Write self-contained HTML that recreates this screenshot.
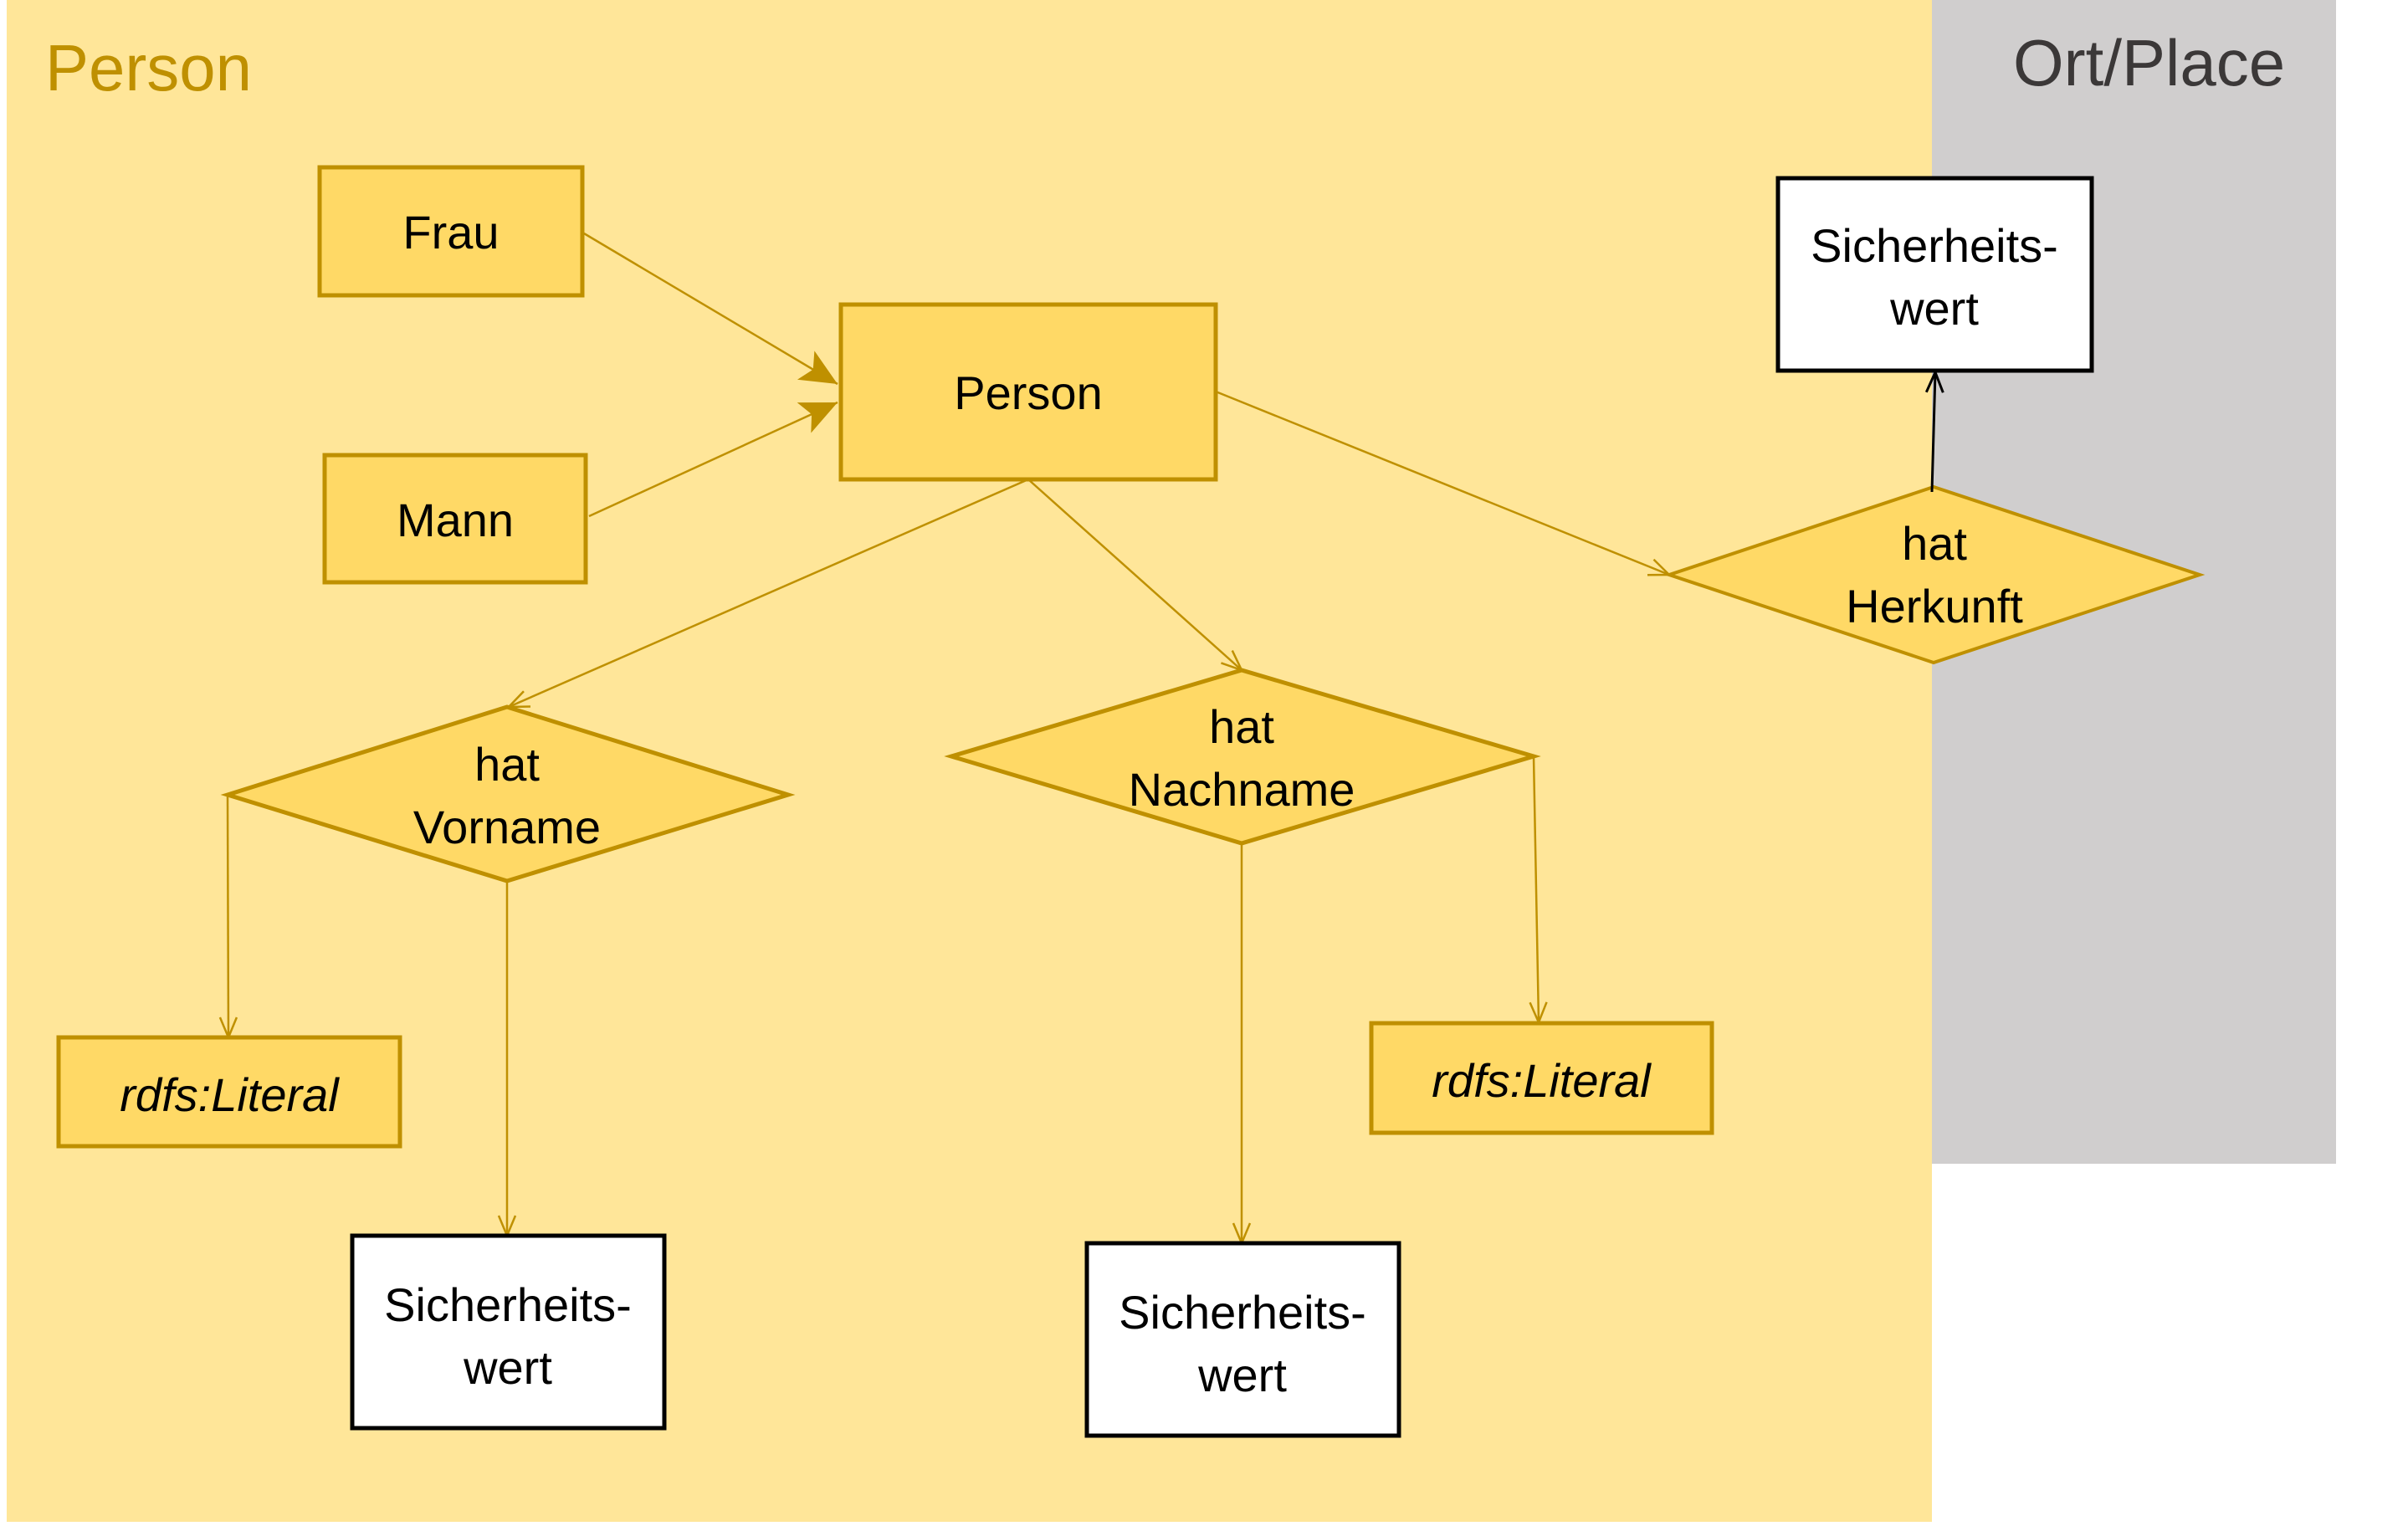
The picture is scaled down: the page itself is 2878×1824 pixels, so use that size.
<!DOCTYPE html>
<html><head><meta charset="utf-8"><style>
html,body{margin:0;padding:0;background:#fff;}
svg{display:block;}
text{font-family:"Liberation Sans",sans-serif;}
</style></head><body>
<svg width="2878" height="1824" viewBox="0 0 2878 1824" xmlns="http://www.w3.org/2000/svg">
<defs>
<marker id="open" markerWidth="30" markerHeight="30" refX="26" refY="12" orient="auto" markerUnits="userSpaceOnUse">
<path d="M2,2 L26,12 L2,22" fill="none" stroke="#BF9000" stroke-width="2.5"/></marker>
<marker id="openk" markerWidth="30" markerHeight="30" refX="26" refY="12" orient="auto" markerUnits="userSpaceOnUse">
<path d="M2,2 L26,12 L2,22" fill="none" stroke="#000" stroke-width="3"/></marker>
<marker id="fill" markerWidth="50" markerHeight="50" refX="44" refY="20" orient="auto" markerUnits="userSpaceOnUse">
<path d="M0,0 L44,20 L0,40 L10,20 Z" fill="#BF9000"/></marker>
</defs>
<rect x="8" y="0" width="2301" height="1819" fill="#FFE699"/>
<rect x="2309" y="0" width="483" height="1391" fill="#D0CECE"/>
<text x="54" y="108" font-size="78" fill="#BF9000" textLength="247" lengthAdjust="spacingAndGlyphs">Person</text>
<text x="2406" y="102" font-size="78" fill="#3B3838">Ort/Place</text>

<g stroke="#BF9000" stroke-width="2.5" fill="none">
<line x1="698" y1="279" x2="1001" y2="459" marker-end="url(#fill)"/>
<line x1="704" y1="617" x2="1001" y2="481" marker-end="url(#fill)"/>
<line x1="1229" y1="573" x2="608" y2="845" marker-end="url(#open)"/>
<line x1="1229" y1="573" x2="1484" y2="801" marker-end="url(#open)"/>
<line x1="1453" y1="468" x2="1995" y2="687" marker-end="url(#open)"/>
<line x1="272" y1="950" x2="273" y2="1240" marker-end="url(#open)"/>
<line x1="606" y1="1053" x2="606" y2="1477" marker-end="url(#open)"/>
<line x1="1484" y1="1008" x2="1484" y2="1486" marker-end="url(#open)"/>
<line x1="1833" y1="904" x2="1839" y2="1222" marker-end="url(#open)"/>
</g>

<g fill="#FFD966" stroke="#BF9000" stroke-width="5">
<rect x="382" y="200" width="314" height="153"/>
<rect x="1005" y="364" width="448" height="209"/>
<rect x="388" y="544" width="312" height="152"/>
<polygon points="1995,687 2311,582 2629,687 2311,792" stroke-width="4"/>
<polygon points="272,950 606,845 942,950 606,1053"/>
<polygon points="1137,904 1484,801 1833,904 1484,1008"/>
<rect x="70" y="1240" width="408" height="130"/>
<rect x="1639" y="1223" width="407" height="131"/>
</g>
<g fill="#fff" stroke="#000" stroke-width="5">
<rect x="2125" y="213" width="375" height="230"/>
<rect x="421" y="1477" width="373" height="230"/>
<rect x="1299" y="1486" width="373" height="230"/>
</g>
<line x1="2309" y1="588" x2="2313" y2="445" stroke="#000" stroke-width="3" marker-end="url(#openk)"/>

<g font-size="56" fill="#000" text-anchor="middle">
<text x="539" y="297">Frau</text>
<text x="1229" y="489">Person</text>
<text x="544" y="641">Mann</text>
<text x="2312" y="669">hat</text>
<text x="2312" y="744">Herkunft</text>
<text x="2312" y="313">Sicherheits-</text>
<text x="2312" y="388">wert</text>
<text x="606" y="933">hat</text>
<text x="606" y="1008">Vorname</text>
<text x="1484" y="888">hat</text>
<text x="1484" y="963">Nachname</text>
<text x="274" y="1328" font-style="italic">rdfs:Literal</text>
<text x="1842" y="1311" font-style="italic">rdfs:Literal</text>
<text x="607" y="1579">Sicherheits-</text>
<text x="607" y="1654">wert</text>
<text x="1485" y="1588">Sicherheits-</text>
<text x="1485" y="1663">wert</text>
</g>
</svg>
</body></html>
